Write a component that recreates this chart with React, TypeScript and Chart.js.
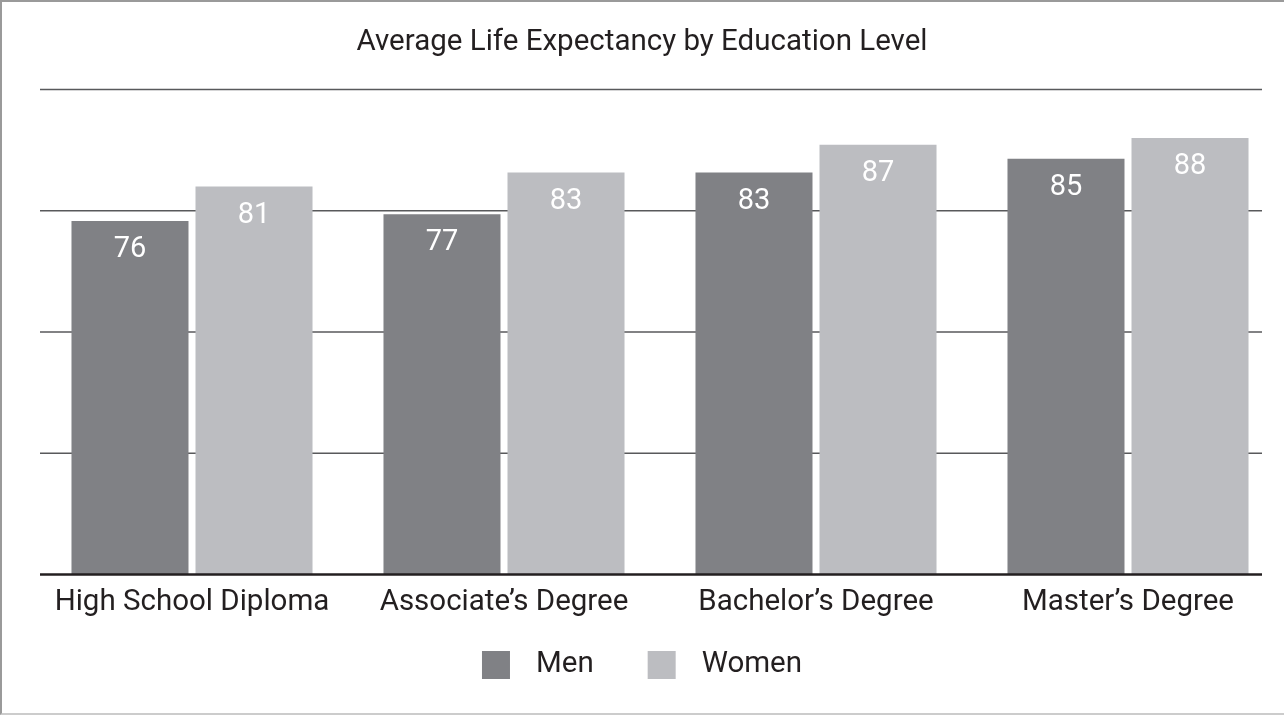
import React, { useEffect, useRef } from "react";
import { Chart, registerables } from "chart.js";

Chart.register(...registerables);

const categories = ["High School Diploma", "Associate\u2019s Degree", "Bachelor\u2019s Degree", "Master\u2019s Degree"];
const seriesNames = ["Men", "Women"];
const menValues = [76, 77, 83, 85];
const womenValues = [81, 83, 87, 88];
const seriesColors = ["#808185", "#bcbdc1"];
const axisMin = 25;
const axisMax = 95;
const axisStep = 17.5;
const titleText = "Average Life Expectancy by Education Level";

const FONT = "Roboto";
const TEXT_COLOR = "#231f20";
const GRID_LEFT = 40;
const GRID_RIGHT = 1262;

const gridPlugin = {
  id: "customGrid",
  beforeDatasetsDraw(chart: any) {
    const ctx = chart.ctx;
    const y = chart.scales.y;
    ctx.save();
    ctx.strokeStyle = "#58595b";
    ctx.lineWidth = 1.5;
    y.ticks.forEach((t: any) => {
      if (t.value === axisMin) return;
      const py = y.getPixelForValue(t.value);
      ctx.beginPath();
      ctx.moveTo(GRID_LEFT, py);
      ctx.lineTo(GRID_RIGHT, py);
      ctx.stroke();
    });
    ctx.restore();
  },
  afterDatasetsDraw(chart: any) {
    const ctx = chart.ctx;
    const y = chart.scales.y;
    const py = y.getPixelForValue(axisMin);
    ctx.save();
    ctx.strokeStyle = "#231f20";
    ctx.lineWidth = 2.5;
    ctx.beginPath();
    ctx.moveTo(GRID_LEFT, py);
    ctx.lineTo(GRID_RIGHT, py);
    ctx.stroke();
    ctx.restore();
  },
};

const barLabelsPlugin = {
  id: "barLabels",
  afterDatasetsDraw(chart: any) {
    const ctx = chart.ctx;
    ctx.save();
    ctx.font = `400 29px ${FONT}`;
    ctx.fillStyle = "#ffffff";
    ctx.textAlign = "center";
    ctx.textBaseline = "middle";
    chart.data.datasets.forEach((ds: any, di: number) => {
      const meta = chart.getDatasetMeta(di);
      meta.data.forEach((bar: any, i: number) => {
        ctx.fillText(String(ds.data[i]), bar.x, bar.y + 29);
      });
    });
    ctx.restore();
  },
};

const customLegendPlugin = {
  id: "customLegend",
  afterDraw(chart: any) {
    const ctx = chart.ctx;
    ctx.save();
    ctx.font = `400 29.5px ${FONT}`;
    ctx.textBaseline = "middle";
    ctx.textAlign = "left";
    const box = 28;
    const boxGap = 26;
    const itemGap = 54;
    const items = chart.data.datasets.map((ds: any) => ({
      label: ds.label,
      color: ds.backgroundColor,
      w: box + boxGap + ctx.measureText(ds.label).width,
    }));
    const total = items.reduce((s: number, it: any) => s + it.w, 0) + itemGap * (items.length - 1);
    let x = chart.width / 2 - total / 2;
    const cy = 665;
    items.forEach((it: any) => {
      ctx.fillStyle = it.color;
      ctx.fillRect(x, cy - box / 2, box, box);
      ctx.fillStyle = TEXT_COLOR;
      ctx.fillText(it.label, x + box + boxGap, cy);
      x += it.w + itemGap;
    });
    ctx.restore();
  },
};

export default function App() {
  const canvasRef = useRef<HTMLCanvasElement | null>(null);

  useEffect(() => {
    document.body.style.margin = "0";
    const canvas = canvasRef.current;
    if (!canvas) return;
    const chart = new Chart(canvas, {
      type: "bar",
      data: {
        labels: categories,
        datasets: [
          {
            label: seriesNames[0],
            data: menValues,
            backgroundColor: seriesColors[0],
            categoryPercentage: 0.795,
            barPercentage: 0.9435,
          },
          {
            label: seriesNames[1],
            data: womenValues,
            backgroundColor: seriesColors[1],
            categoryPercentage: 0.795,
            barPercentage: 0.9435,
          },
        ],
      },
      options: {
        animation: false,
        responsive: false,
        maintainAspectRatio: false,
        layout: { padding: { left: 0, right: 0, top: 0, bottom: 85 } },
        plugins: {
          legend: { display: false },
          tooltip: { enabled: false },
          title: {
            display: true,
            text: titleText,
            color: TEXT_COLOR,
            font: { family: FONT, size: 29.5, weight: "normal", lineHeight: 1.2 },
            padding: { top: 25, bottom: 29 },
          },
        },
        scales: {
          x: {
            grid: { display: false, drawTicks: false },
            border: { display: false },
            ticks: {
              color: TEXT_COLOR,
              font: { family: FONT, size: 29.5, lineHeight: 1.2 },
              padding: 10,
              maxRotation: 0,
              autoSkip: false,
            },
          },
          y: {
            min: axisMin,
            max: axisMax,
            grid: { display: false, drawTicks: false },
            border: { display: false },
            ticks: { display: false, stepSize: axisStep },
            afterFit: (scale: any) => {
              scale.width = 36;
            },
          },
        },
      },
      plugins: [gridPlugin, barLabelsPlugin, customLegendPlugin],
    });
    return () => chart.destroy();
  }, []);

  return (
    <div style={{ position: "relative", width: 1284, height: 715 }}>
      <canvas ref={canvasRef} width={1284} height={715} style={{ display: "block" }} />
      <div
        style={{
          position: "absolute",
          left: 0,
          top: 0,
          width: 1284,
          height: 715,
          boxSizing: "border-box",
          borderLeft: "2px solid #9a9a9a",
          borderTop: "2px solid #9a9a9a",
          borderBottom: "2px solid #cccccc",
          pointerEvents: "none",
        }}
      />
    </div>
  );
}
